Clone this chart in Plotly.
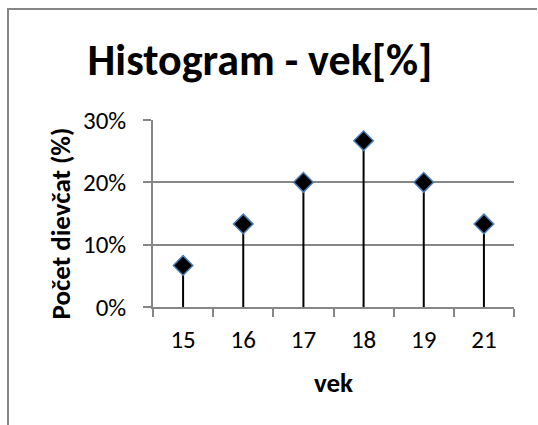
import plotly.graph_objects as go

categories = ["15", "16", "17", "18", "19", "21"]
values = [6.67, 13.33, 20.0, 26.67, 20.0, 13.33]  # percent
y_ticks = [0, 10, 20, 30]
y_tick_labels = ["0%", "10%", "20%", "30%"]

W, H = 538, 425
L, R, T, B = 153, 24, 119.5, 118.3
FONT = "Carlito, Lato"
GRID = "#868686"

sx, sy = [], []
for c, v in zip(categories, values):
    sx += [c, c, None]
    sy += [0, v, None]

fig = go.Figure()
fig.add_trace(go.Scatter(x=sx, y=sy, mode="lines",
                         line=dict(color="black", width=2), hoverinfo="skip",
                         showlegend=False))
fig.add_trace(go.Scatter(x=categories, y=values, mode="markers",
                         marker=dict(symbol="diamond", size=15, color="black",
                                     line=dict(color="#4a7ebb", width=1.5)),
                         showlegend=False))

pw = W - L - R
ph = H - T - B
def px_x(p):
    return (p - L) / pw
def px_y(p):
    return (H - B - p) / ph

fig.add_shape(type="line", xref="paper", yref="paper",
              x0=px_x(7), x1=px_x(537), y0=px_y(8.5), y1=px_y(8.5),
              line=dict(color=GRID, width=2))
fig.add_shape(type="line", xref="paper", yref="paper",
              x0=px_x(8), x1=px_x(8), y0=px_y(7.5), y1=px_y(430),
              line=dict(color=GRID, width=2))

fig.add_annotation(text="<b>Počet dievčat (%)</b>", textangle=-90,
                   xref="paper", yref="paper", x=px_x(60), y=px_y(223),
                   xanchor="center", yanchor="middle", showarrow=False,
                   font=dict(family=FONT, size=27, color="black"))
fig.add_annotation(text="<b>vek</b>",
                   xref="paper", yref="paper", x=px_x(333), y=px_y(382),
                   xanchor="center", yanchor="middle", showarrow=False,
                   font=dict(family=FONT, size=27, color="black"))

fig.update_layout(
    width=W, height=H,
    margin=dict(l=L, r=R, t=T, b=B),
    paper_bgcolor="white", plot_bgcolor="white",
    font=dict(family=FONT, color="black", size=25),
    title=dict(text="<b>Histogram - vek[%]</b>", x=260 / W, xanchor="center",
               y=1 - 60 / H, yanchor="middle",
               font=dict(family=FONT, size=44, color="black")),
    xaxis=dict(type="category", categoryorder="array", categoryarray=categories,
               range=[-0.5, 5.5], showgrid=False,
               showline=True, linecolor=GRID, linewidth=1.5,
               ticks="outside", ticklen=8, tickcolor=GRID, tickwidth=1.5,
               tickson="boundaries", ticklabelstandoff=9,
               tickfont=dict(family=FONT, size=25, color="black")),
    yaxis=dict(range=[0, 30], tickvals=y_ticks, ticktext=y_tick_labels,
               showgrid=True, gridcolor=GRID, gridwidth=1.5,
               showline=True, linecolor=GRID, linewidth=1.5,
               ticks="outside", ticklen=8, tickcolor=GRID, tickwidth=1.5,
               zeroline=False, ticklabelstandoff=12,
               tickfont=dict(family=FONT, size=25, color="black")),
)

fig.write_html("out.html", config={"displayModeBar": False},
               post_script="document.body.style.margin='0';document.body.style.overflow='hidden';")
